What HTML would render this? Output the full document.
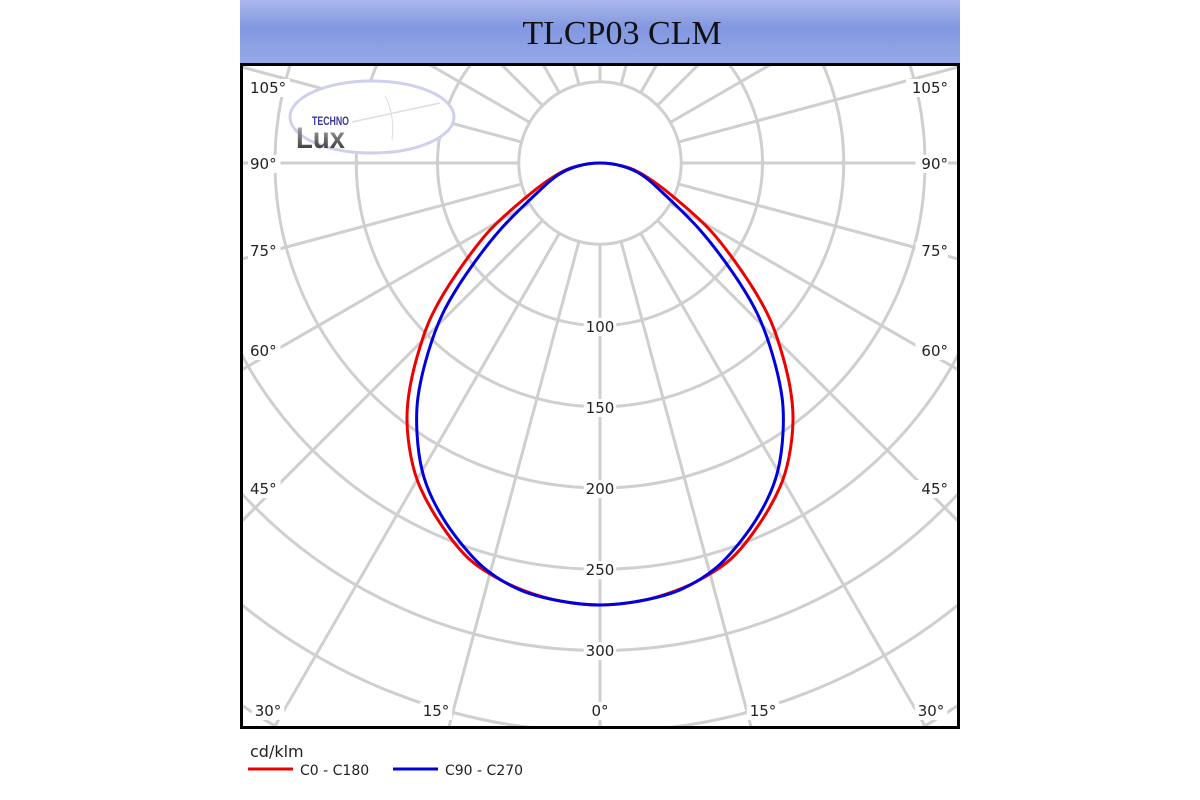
<!DOCTYPE html>
<html><head><meta charset="utf-8"><style>
html,body{margin:0;padding:0;background:#fff;width:1200px;height:800px;overflow:hidden}
svg{display:block;position:absolute;left:0;top:0}
</style></head><body>
<svg id="s" width="1200" height="800" xmlns="http://www.w3.org/2000/svg">
<defs>
<linearGradient id="hg" x1="0" y1="0" x2="0" y2="1">
<stop offset="0" stop-color="#a9b7ec"/><stop offset="0.45" stop-color="#8197e0"/><stop offset="1" stop-color="#97a9e8"/>
</linearGradient>
<linearGradient id="lg" x1="0" y1="0" x2="0" y2="1">
<stop offset="0" stop-color="#bbb"/><stop offset="1" stop-color="#222"/>
</linearGradient>
<clipPath id="cp"><rect x="242" y="65" width="716" height="662"/></clipPath>
</defs>
<rect x="240" y="0" width="720" height="63" fill="url(#hg)"/>
<text x="622" y="44" text-anchor="middle" font-family="Liberation Serif, serif" font-size="34" fill="#111">TLCP03 CLM</text>
<g id="grid" clip-path="url(#cp)" stroke="#cfcfcf" stroke-width="3" fill="none"></g>
<g clip-path="url(#cp)">
<ellipse cx="372" cy="117" rx="82" ry="36" fill="#fff" stroke="#cfd0ec" stroke-width="3"/>
<path d="M352 122 L440 103" stroke="#ddd" stroke-width="1.5"/>
<path d="M385 96 Q395 115 392 140" stroke="#ddd" stroke-width="1" fill="none"/>
</g>
<text x="312" y="125" font-family="Liberation Sans, sans-serif" font-weight="bold" font-size="12" fill="#3a3a9a" textLength="37" lengthAdjust="spacingAndGlyphs">TECHNO</text>
<text x="296" y="148" font-family="Liberation Sans, sans-serif" font-weight="bold" font-size="30" fill="url(#lg)" textLength="49" lengthAdjust="spacingAndGlyphs">Lux</text>
<g id="curves" fill="none" stroke-width="3"></g>
<g id="labels" font-family="DejaVu Sans, Liberation Sans, sans-serif" font-size="15" fill="#222"></g>
<rect x="241.5" y="64.5" width="717" height="663" fill="none" stroke="#000" stroke-width="3"/>
<text x="250" y="757" font-family="DejaVu Sans, Liberation Sans, sans-serif" font-size="16" fill="#222">cd/klm</text>
<line x1="248" y1="769" x2="293" y2="769" stroke="#e00" stroke-width="3"/>
<text x="300" y="775" font-family="DejaVu Sans, Liberation Sans, sans-serif" font-size="14" fill="#222">C0 - C180</text>
<line x1="393" y1="769" x2="438" y2="769" stroke="#00d" stroke-width="3"/>
<text x="445" y="775" font-family="DejaVu Sans, Liberation Sans, sans-serif" font-size="14" fill="#222">C90 - C270</text>
</svg>
<script>
var NS="http://www.w3.org/2000/svg",cx=600,cy=163,k=1.625;
function el(t,a,p){var e=document.createElementNS(NS,t);for(var i in a)e.setAttribute(i,a[i]);p.appendChild(e);return e;}
var g=document.getElementById('grid');
for(var v=50;v<=650;v+=50)el('circle',{cx:cx,cy:cy,r:v*k},g);
for(var a=0;a<360;a+=15){var t=a*Math.PI/180;el('line',{x1:cx+81*Math.sin(t),y1:cy+81*Math.cos(t),x2:cx+1200*Math.sin(t),y2:cy+1200*Math.cos(t)},g);}
var L=document.getElementById('labels');
function lab(x,y,s,anchor){var w=s.length*9.5+4;el('rect',{x:anchor=='middle'?x-w/2:(anchor=='end'?x-w:x-2),y:y-14,width:w,height:18,fill:'#fff'},L);var e=el('text',{x:x,y:y,'text-anchor':anchor||'start'},L);e.textContent=s;}
[[100,326],[150,407],[200,488],[250,569],[300,650]].forEach(function(p){lab(600,p[1]+6,String(p[0]),'middle');});
[['105°',87],['90°',163],['75°',250],['60°',350],['45°',488]].forEach(function(p){lab(250,p[1]+6,p[0]);lab(948,p[1]+6,p[0],'end');});
[['30°',268],['15°',436],['0°',600],['15°',763],['30°',931]].forEach(function(p){lab(p[1],716,p[0],'middle');});
var red=[[600,163],[578,166],[558,174],[530,194],[490,230],[457,273],[433,313],[420,347],[410,387],[407,420],[411,457],[420,487],[440,523],[467,557],[497,578],[525,591],[560,601],[600,605]];
var blue=[[600,163],[578,166],[558,175],[537,193],[500,230],[467,273],[443,313],[428,353],[418,397],[417,433],[422,470],[433,500],[453,533],[483,567],[518,589],[555,600],[600,605]];
function full(p){var r=p.slice();for(var i=p.length-2;i>=1;i--)r.push([1200-p[i][0],p[i][1]]);return r;}
function cr(p){var n=p.length,d='M'+p[0][0]+' '+p[0][1];for(var i=0;i<n;i++){var p0=p[(i-1+n)%n],p1=p[i],p2=p[(i+1)%n],p3=p[(i+2)%n];d+=' C'+(p1[0]+(p2[0]-p0[0])/6)+' '+(p1[1]+(p2[1]-p0[1])/6)+' '+(p2[0]-(p3[0]-p1[0])/6)+' '+(p2[1]-(p3[1]-p1[1])/6)+' '+p2[0]+' '+p2[1];}return d;}
var C=document.getElementById('curves');
el('path',{d:cr(full(red)),stroke:'#e00'},C);
el('path',{d:cr(full(blue)),stroke:'#00d'},C);
</script>
</body></html>
